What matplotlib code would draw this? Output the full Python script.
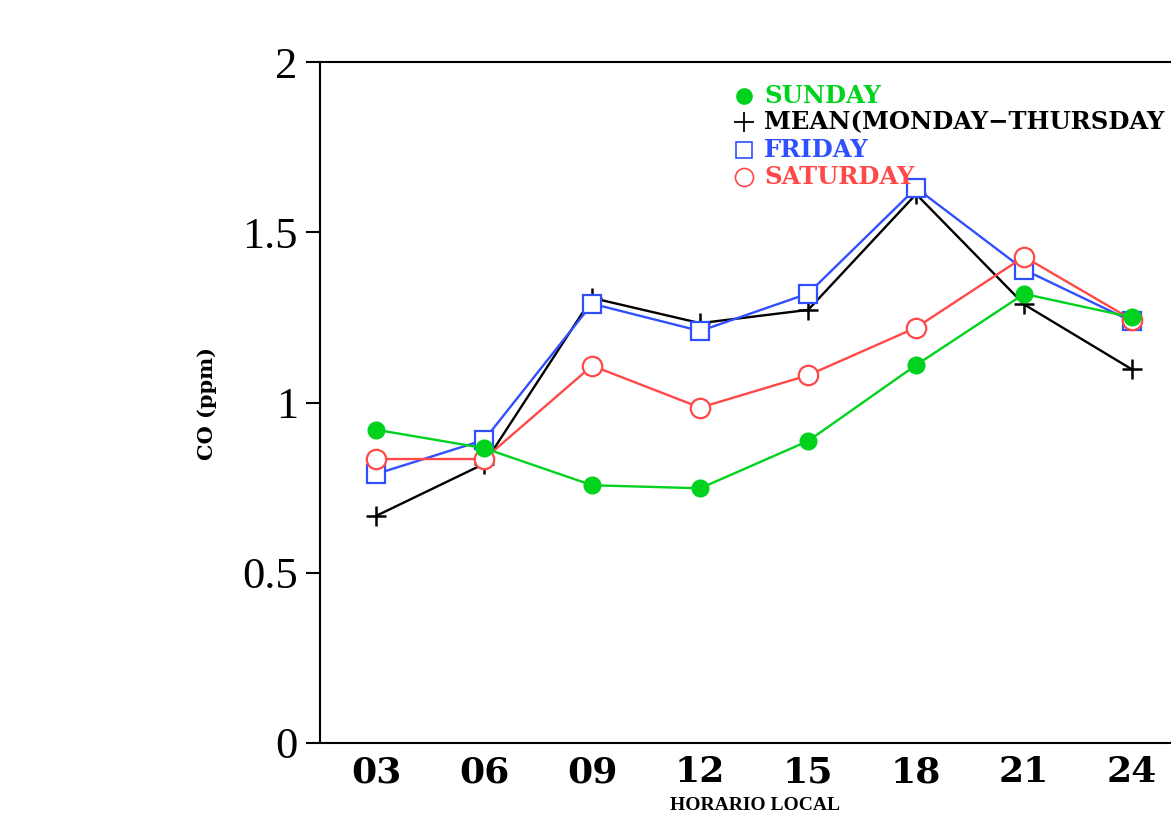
import numpy as np
import matplotlib.pyplot as plt

# hours (local time)
hours = ['03', '06', '09', '12', '15', '18', '21', '24']

# CO concentration (ppm) per series
sunday = [0.92, 0.866, 0.757, 0.748, 0.887, 1.110, 1.319, 1.250]
mean_mon_thu = [0.667, 0.82, 1.307, 1.233, 1.272, 1.612, 1.288, 1.097]
friday = [0.790, 0.890, 1.290, 1.210, 1.320, 1.630, 1.390, 1.238]
saturday = [0.834, 0.834, 1.108, 0.985, 1.080, 1.220, 1.428, 1.243]

labels = ['SUNDAY', 'MEAN(MONDAY\u2212THURSDAY', 'FRIDAY', 'SATURDAY']

green = '#00d21e'
blue = '#3050ff'
red = '#ff4848'

fig = plt.figure(figsize=(11.71, 8.19), dpi=100)
ax = fig.add_axes([320 / 1171, 76 / 819, 851 / 1171, 681 / 819])

x = np.arange(len(hours))

# draw order: black, blue, red, green
ax.plot(x, mean_mon_thu, color='black', lw=1.7, marker='+', ms=15, mew=1.8, zorder=2)
ax.plot(x, friday, color=blue, lw=1.7, marker='s', ms=12.5, mfc='white', mec=blue, mew=1.6, zorder=3)
ax.plot(x, saturday, color=red, lw=1.7, marker='o', ms=14, mfc='white', mec=red, mew=1.6, zorder=4)
ax.plot(x, sunday, color=green, lw=1.7, marker='o', ms=12, mfc=green, mec=green, zorder=5)

ax.set_xlim(-0.52, 7.36)
ax.set_ylim(0, 2)
ax.set_xticks(x)
ax.set_xticklabels(hours, fontfamily='DejaVu Serif', fontweight='bold', fontsize=26)
ax.set_yticks([0, 0.5, 1, 1.5, 2])
ax.set_yticklabels(['0', '0.5', '1', '1.5', '2'], fontfamily='Liberation Serif', fontsize=32)
ax.tick_params(axis='x', length=0, pad=9)
ax.tick_params(axis='y', length=10, width=1.5, pad=6, direction='out')

ax.spines['right'].set_visible(False)
for s in ['left', 'top', 'bottom']:
    ax.spines[s].set_linewidth(1.5)

ax.text((207 - 320) / 851, (743 - 404) / 681, 'CO (ppm)', rotation=90, transform=ax.transAxes,
        ha='center', va='center', fontfamily='DejaVu Serif', fontweight='bold', fontsize=15)
ax.text((755 - 320) / 851, -(806 - 743) / 681, 'HORARIO LOCAL', transform=ax.transAxes,
        ha='center', va='center', fontfamily='Liberation Serif', fontweight='bold', fontsize=14)

# legend drawn by hand (marker + coloured label)
styles = [
    dict(color=green, marker='o', ms=11, mfc=green, mec=green),
    dict(color='black', marker='+', ms=15, mew=1.3),
    dict(color=blue, marker='s', ms=12, mfc='white', mec=blue, mew=1.2),
    dict(color=red, marker='o', ms=13, mfc='white', mec=red, mew=1.2),
]
colors = [green, 'black', blue, red]
rows_y = [96, 122, 150, 177]
for lab, st, c, yy in zip(labels, styles, colors, rows_y):
    ya = (743 - yy) / 681
    ax.plot([(744 - 320) / 851], [ya], transform=ax.transAxes, ls='none', clip_on=False, zorder=6, **st)
    ax.text((764 - 320) / 851, ya, lab, transform=ax.transAxes, color=c, ha='left', va='center',
            fontfamily='DejaVu Serif', fontweight='bold', fontsize=17.5, zorder=6)

fig.savefig('out.png', dpi=100)
